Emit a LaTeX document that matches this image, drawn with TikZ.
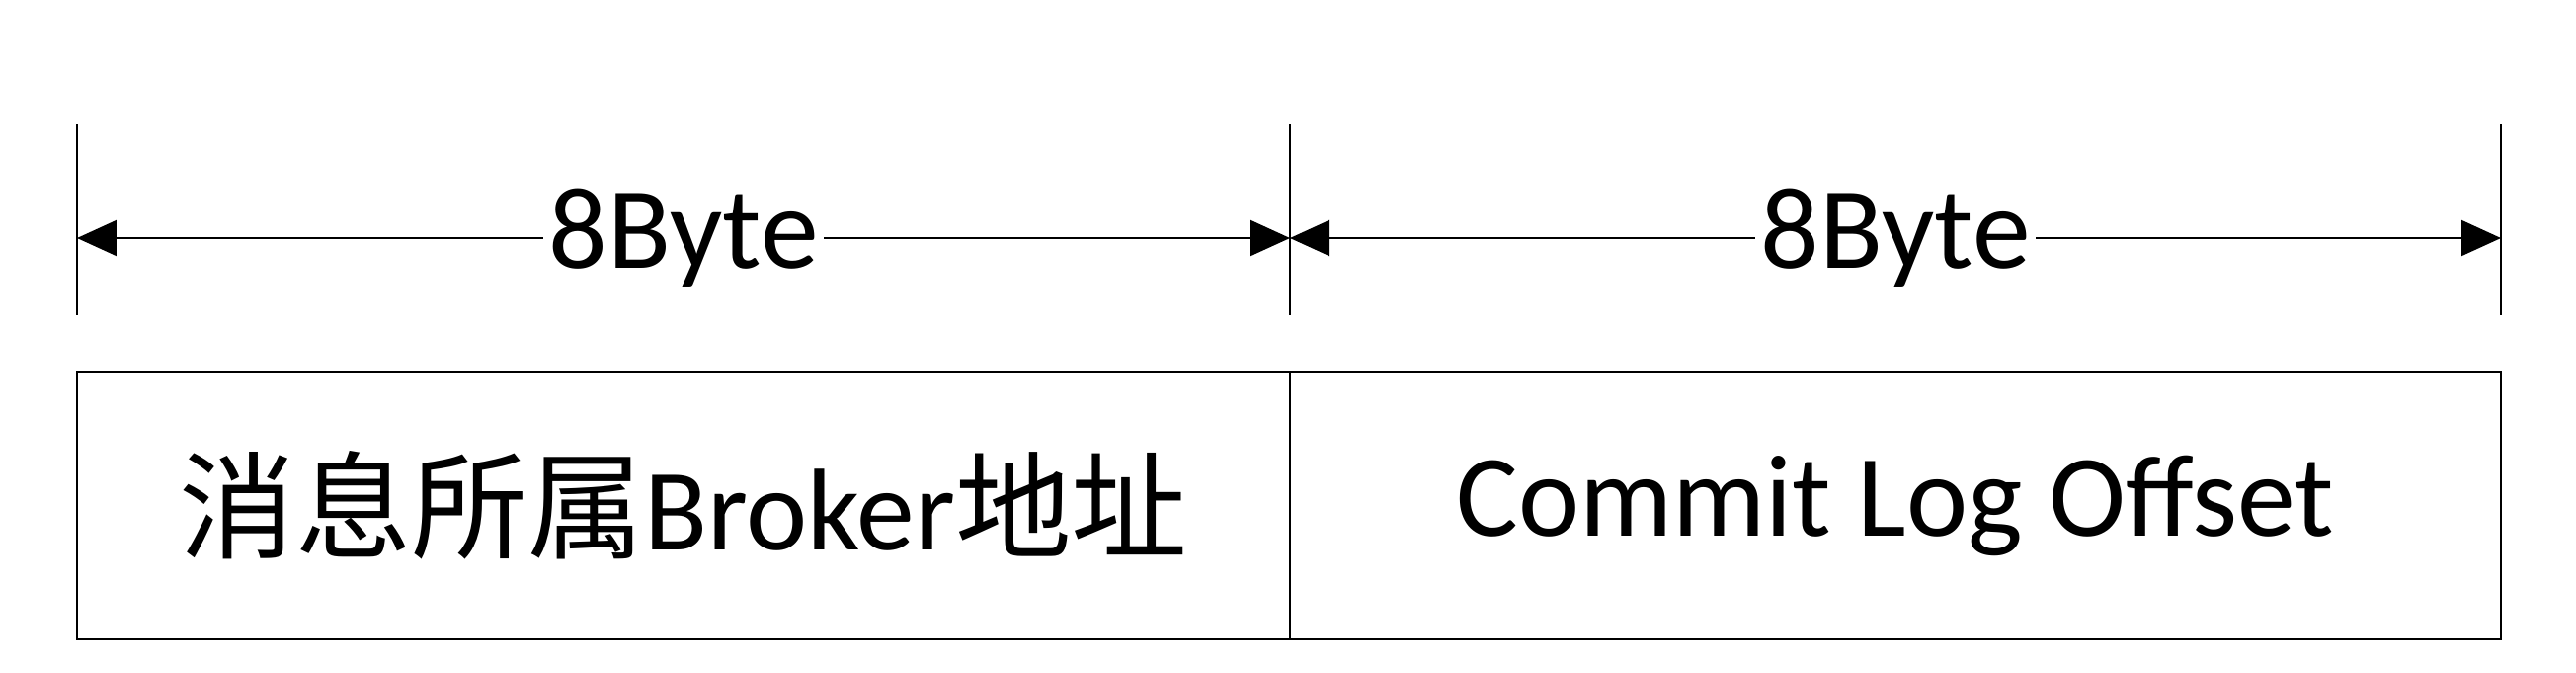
\documentclass[tikz,border=0pt]{standalone}
\usepackage{fontspec}
\setmainfont{Carlito}
\newfontfamily\cjk{Noto Sans CJK SC}
\usetikzlibrary{arrows.meta}
\tikzset{
  bound/.style={black, line width=0.7pt},
  dimarrow/.style={black, line width=0.6pt,
    {Triangle[length=0.4cm,width=0.36cm]}-{Triangle[length=0.4cm,width=0.36cm]}},
  bytelabel/.style={fill=white, inner sep=1.5pt, font=\fontsize{33.5}{40}\selectfont},
  field/.style={draw, line width=0.7pt, minimum height=2.71cm, inner sep=0pt,
    font=\fontsize{33.5}{40}\selectfont},
}

\begin{document}
\begin{tikzpicture}
  \useasboundingbox (0,0) rectangle (26.08,6.8);
  % boundary ticks
  \coordinate (lt) at (0.78,5.55);  \coordinate (lb) at (0.78,3.61);
  \coordinate (mt) at (13.06,5.55); \coordinate (mb) at (13.06,3.61);
  \coordinate (rt) at (25.32,5.55); \coordinate (rb) at (25.32,3.61);
  \draw[bound] (lt)--(lb);
  \draw[bound] (mt)--(mb);
  \draw[bound] (rt)--(rb);
  % dimension arrows
  \coordinate (la) at (0.78,4.39);
  \coordinate (ma) at (13.06,4.39);
  \coordinate (ra) at (25.32,4.39);
  \draw[dimarrow] (la) -- node[bytelabel] (len1) {8Byte} (ma);
  \draw[dimarrow] (ma) -- node[bytelabel] (len2) {8Byte} (ra);
  % fields
  \node[field, minimum width=12.28cm] (addr) at (6.92,1.685) {{\cjk 消息所属}Broker{\cjk 地址}};
  \node[field, minimum width=12.26cm] (offset) at (19.19,1.685) {Commit Log Offset};
\end{tikzpicture}
\end{document}
